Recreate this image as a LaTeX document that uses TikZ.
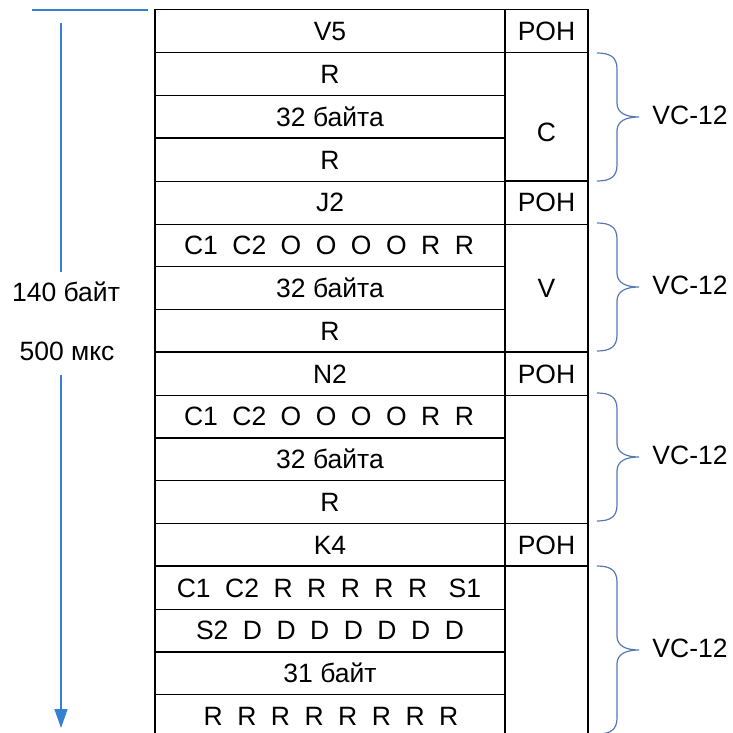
\documentclass[tikz,border=0pt]{standalone}
\usepackage{fontspec}
\setmainfont{Liberation Sans}
\usetikzlibrary{arrows.meta}
\definecolor{arrblue}{RGB}{52,128,210}
\definecolor{brblue}{RGB}{88,120,178}
\newcommand\tokgap{\hspace{14.5pt}}
\begin{document}
\begin{tikzpicture}[x=1pt,y=-1pt,
  txt/.style={font=\fontsize{26.5}{30}\selectfont, inner sep=0pt, text height=18.5pt, text depth=0pt, anchor=center},
  thinrule/.style={line width=1pt},
  thickrule/.style={line width=2pt},
  arrline/.style={draw=arrblue, line width=1.6pt},
  bracestyle/.style={draw=brblue, line width=1.2pt}]
\useasboundingbox (0,0) rectangle (733,733);
\clip (0,0) rectangle (733,733);
% table rules
\foreach \k in {0,1,2,4,5,6,7,9,11,12,14,16} {
  \draw[thinrule] (155,{10+\k*42.8}) -- (506,{10+\k*42.8});
}
\foreach \k in {3,8,10,13,15} {
  \draw[thickrule] (155,{10+\k*42.8}) -- (506,{10+\k*42.8});
}
\foreach \k in {0,1,5,9,12} {
  \draw[thinrule] (505,{10+\k*42.8}) -- (588,{10+\k*42.8});
}
\foreach \k in {4,8,13} {
  \draw[thickrule] (505,{10+\k*42.8}) -- (588,{10+\k*42.8});
}
\draw[thickrule] (155,9) -- (155,740);
\draw[thickrule] (588,9) -- (588,740);
\draw[line width=1.2pt] (505,10) -- (505,740);
% main column texts
\node[txt] (r0) at (330,31.4) {V5};
\node[txt] (r1) at (330,74.2) {R};
\node[txt] (r2) at (330,117) {32 байта};
\node[txt] (r3) at (330,159.8) {R};
\node[txt] (r4) at (330,202.6) {J2};
\node[txt] (r5) at (329,245.4) {C1\tokgap C2\tokgap O\tokgap O\tokgap O\tokgap O\tokgap R\tokgap R};
\node[txt] (r6) at (330,288.2) {32 байта};
\node[txt] (r7) at (330,331) {R};
\node[txt] (r8) at (330,373.8) {N2};
\node[txt] (r9) at (329,416.6) {C1\tokgap C2\tokgap O\tokgap O\tokgap O\tokgap O\tokgap R\tokgap R};
\node[txt] (r10) at (330,459.4) {32 байта};
\node[txt] (r11) at (330,502.2) {R};
\node[txt] (r12) at (330,545) {K4};
\node[txt] (r13) at (329,587.8) {C1\tokgap C2\tokgap R\tokgap R\tokgap R\tokgap R\tokgap R\hspace{21.5pt}S1};
\node[txt] (r14) at (330,630.6) {S2\tokgap D\tokgap D\tokgap D\tokgap D\tokgap D\tokgap D\tokgap D};
\node[txt] (r15) at (330,673.4) {31 байт};
\node[txt] (r16) at (331,716.2) {R\tokgap R\tokgap R\tokgap R\tokgap R\tokgap R\tokgap R\tokgap R};
% POH column texts
\node[txt] (p0) at (546.5,31.4) {POH};
\node[txt] (p4) at (546.5,202.6) {POH};
\node[txt] (p8) at (546.5,373.8) {POH};
\node[txt] (p12) at (546.5,545) {POH};
\node[txt] (cC) at (546.5,132) {C};
\node[txt] (cV) at (546.5,288) {V};
% braces and labels
\foreach \t/\hh [count=\i] in {53/64,223/64,393/64,566/84} {
  \draw[bracestyle] (597,\t) .. controls (610,\t) and (617,\t+4) .. (617,\t+16)
    -- (617,\t+\hh-14) .. controls (617,\t+\hh-4) and (626,\t+\hh) .. (639,\t+\hh)
    .. controls (626,\t+\hh) and (617,\t+\hh+4) .. (617,\t+\hh+14)
    -- (617,\t+2*\hh-16) .. controls (617,\t+2*\hh-4) and (610,\t+2*\hh) .. (597,\t+2*\hh);
  \node[txt] (vc\i) at (690,\t+\hh-2) {VC-12};
}
% left scale
\coordinate (hl) at (32,10);
\coordinate (hr) at (148,10);
\draw[arrline] (hl) -- (hr);
\coordinate (atop) at (61,23);
\coordinate (abot) at (61,728);
\node[txt] (lab140) at (66,292) {140 байт};
\node[txt] (lab500) at (67,351) {500 мкс};
\draw[arrline, shorten >=11pt] (atop) -- (atop |- lab140.north);
\draw[arrline, -{Triangle[length=19pt,width=13pt]}, shorten <=15pt] (abot |- lab500.south) -- (abot);
\end{tikzpicture}
\end{document}
